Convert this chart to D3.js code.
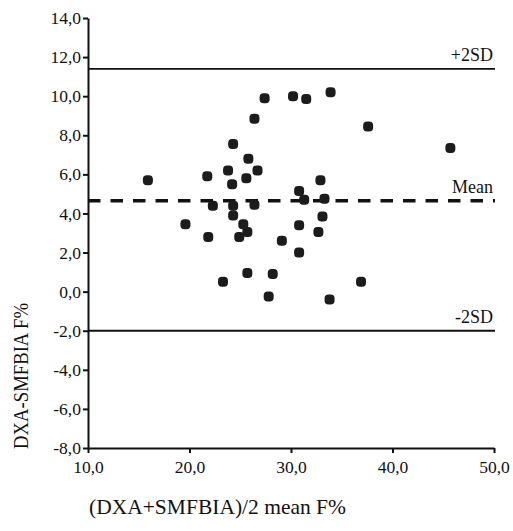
<!DOCTYPE html>
<html>
<head>
<meta charset="utf-8">
<script src="https://cdn.jsdelivr.net/npm/d3@7"></script>
<style>
  body { margin: 0; background: #fff; }
  svg text { font-family: "Liberation Serif", "Times New Roman", serif; fill: #111; }
</style>
</head>
<body>
<div id="chart"></div>
<script>
// mean of the two methods (x) and their difference (y)
const meanF = [15.9, 19.6, 21.75, 21.85, 22.3, 23.3, 23.8, 24.2, 24.3, 24.3,
               24.3, 24.9, 25.3, 25.6, 25.7, 25.7, 25.8, 26.4, 26.4, 26.7,
               27.4, 27.8, 28.2, 29.1, 30.2, 30.8, 30.8, 30.8, 31.3, 31.5,
               32.7, 32.9, 33.1, 33.3, 33.8, 33.9, 36.9, 37.6, 45.7];
const diffF = [5.7, 3.45, 5.9, 2.8, 4.4, 0.5, 6.2, 5.5, 7.55, 4.4,
               3.9, 2.8, 3.45, 5.8, 3.05, 0.95, 6.8, 8.85, 4.45, 6.2,
               9.9, -0.25, 0.9, 2.6, 10.0, 5.15, 3.4, 2.0, 4.7, 9.85,
               3.05, 5.7, 3.85, 4.75, -0.4, 10.2, 0.5, 8.45, 7.35];

const refValues = [11.4, 4.65, -2.0];
const refLabels = ["+2SD", "Mean", "-2SD"];

const xTicks = [10, 20, 30, 40, 50];
const yTicks = [-8, -6, -4, -2, 0, 2, 4, 6, 8, 10, 12, 14];

const W = 513, H = 531;
const fmt = d => d.toFixed(1).replace(".", ",");

const svg = d3.select("#chart").append("svg")
    .attr("width", W)
    .attr("height", H);

const x = d3.scaleLinear().domain([10, 50]).range([88, 494]);
const y = d3.scaleLinear().domain([-8, 14]).range([448, 18]);

// reference lines
refValues.forEach((v, i) => {
    svg.append("line")
        .attr("x1", x(10)).attr("x2", x(50) + 1)
        .attr("y1", y(v)).attr("y2", y(v))
        .attr("stroke", "#111")
        .attr("stroke-width", i == 1 ? 3.5 : 1.8)
        .attr("stroke-dasharray", i == 1 ? "12.5,10" : null);
    svg.append("text")
        .attr("x", x(50) - 1)
        .attr("y", y(v) - 8)
        .attr("text-anchor", "end")
        .style("font-size", "18px")
        .text(refLabels[i]);
});

// points
svg.append("g")
    .selectAll("rect")
    .data(meanF.map((m, i) => ({ m: m, d: diffF[i] })))
    .join("rect")
    .attr("x", d => x(d.m) - 5)
    .attr("y", d => y(d.d) - 5)
    .attr("width", 10)
    .attr("height", 10)
    .attr("rx", 4)
    .attr("fill", "#1c1c1c");

// axes
const yAxis = svg.append("g")
    .attr("transform", `translate(${x(10)},0)`)
    .call(d3.axisLeft(y).tickValues(yTicks).tickFormat(fmt)
        .tickSize(5).tickSizeOuter(0).tickPadding(2));

const xAxis = svg.append("g")
    .attr("transform", `translate(0,${y(-8)})`)
    .call(d3.axisBottom(x).tickValues(xTicks).tickFormat(fmt)
        .tickSize(5).tickSizeOuter(0).tickPadding(8));

[yAxis, xAxis].forEach(g => {
    g.attr("font-family", null).attr("font-size", null);
    g.select(".domain").attr("stroke", "#111").attr("stroke-width", 2);
    g.selectAll(".tick line").attr("stroke", "#111").attr("stroke-width", 2);
    g.selectAll(".tick text")
        .attr("fill", "#111")
        .style("font-family", "'Liberation Serif', 'Times New Roman', serif")
        .style("font-size", "17.5px");
});

// axis titles
svg.append("text")
    .attr("transform", "translate(28,376) rotate(-90)")
    .attr("text-anchor", "middle")
    .attr("textLength", 146)
    .attr("lengthAdjust", "spacingAndGlyphs")
    .style("font-size", "21px")
    .text("DXA-SMFBIA F%");

svg.append("text")
    .attr("x", 89)
    .attr("y", 514)
    .attr("textLength", 257)
    .attr("lengthAdjust", "spacingAndGlyphs")
    .style("font-size", "21px")
    .text("(DXA+SMFBIA)/2 mean F%");
</script>
</body>
</html>
